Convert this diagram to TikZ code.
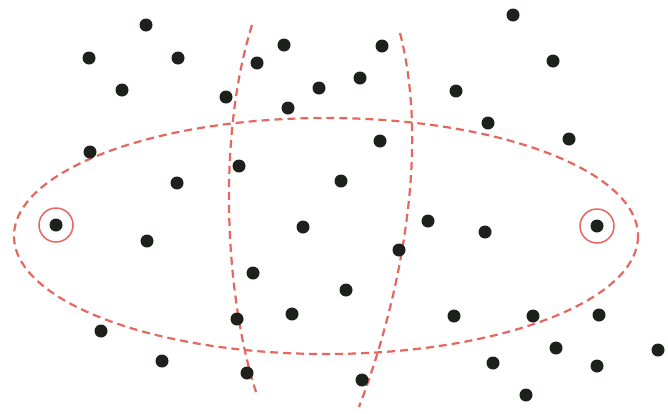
\documentclass[tikz,border=0pt]{standalone}
\begin{document}
\begin{tikzpicture}[x=1pt,y=-1pt,
  dot/.style={circle,fill=dotc,draw=none,inner sep=0pt,minimum size=13pt},
  ring/.style={circle,draw=linec,line width=1.5pt,inner sep=0pt,minimum size=34pt},
  dline/.style={draw=linec,line width=2.2pt,dash pattern=on 8pt off 5pt}]
\definecolor{dotc}{HTML}{1C211C}
\definecolor{linec}{HTML}{E5675F}
\useasboundingbox (0,0) rectangle (668,413);
\fill[white] (0,0) rectangle (668,413);
% dashed ellipse and curves
\draw[dline] (326,236) ellipse [x radius=312, y radius=118];
\draw[dline] (252,25) .. controls (216,140) and (226,300) .. (256,392);
\draw[dline] (400,33) .. controls (430,150) and (400,300) .. (359,407);
% rings
\node[ring] (r1) at (56,225) {};
\node[ring] (r2) at (597,226) {};
% dots
\foreach \i/\x/\y in {
 1/146/25, 2/513/15, 3/89/58, 4/178/58, 5/257/63, 6/284/45, 7/382/46, 8/553/61,
 9/122/90, 10/226/97, 11/319/88, 12/360/78, 13/456/91, 14/288/108, 15/488/123,
 16/380/141, 17/569/139, 18/90/152, 19/239/166, 20/177/183, 21/341/181,
 22/56/225, 23/147/241, 24/303/227, 25/428/221, 26/485/232, 27/597/226,
 28/399/250, 29/253/273, 30/346/290, 31/237/319, 32/292/314, 33/454/316,
 34/533/316, 35/599/315, 36/101/331, 37/556/348, 38/658/350, 39/162/361,
 40/493/363, 41/597/366, 42/247/373, 43/362/380, 44/526/395}
  \node[dot] (d\i) at (\x,\y) {};
\end{tikzpicture}
\end{document}
